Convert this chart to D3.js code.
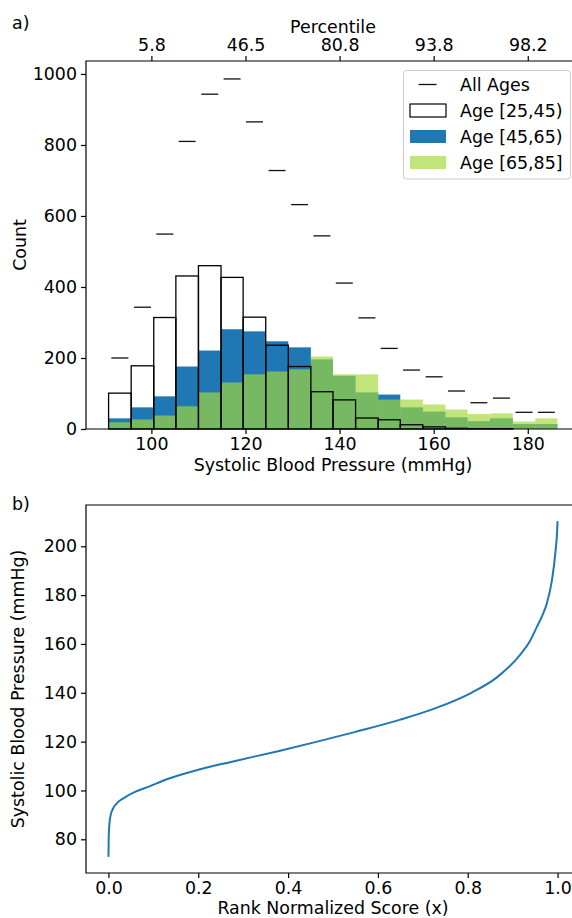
<!DOCTYPE html>
<html>
<head>
<meta charset="utf-8">
<script src="https://cdn.jsdelivr.net/npm/d3@7"></script>
<style>
    body { margin: 0; background: #fff; }
    svg text { font-family: "DejaVu Sans", sans-serif; font-size: 17.4px; fill: #000; }
</style>
</head>
<body>
<svg id="chart" width="572" height="918"></svg>
<script>
// histogram bin edges (mmHg)
let binEdges = [90.9, 95.7, 100.5, 105.2, 110.0, 114.8, 119.5, 124.3, 129.1, 133.9, 138.6,
                143.4, 148.2, 152.9, 157.7, 162.5, 167.2, 172.0, 176.8, 181.6, 186.3]

// counts per bin
let allAges   = [200, 343, 549, 810, 943, 986, 865, 728, 632, 544, 411, 313, 227, 166, 147, 107, 74, 87, 47, 47]
let age25to45 = [101, 178, 314, 431, 460, 427, 315, 236, 176, 105, 82, 31, 26, 12, 6, 2, 1, 1, 0, 0]
let age45to65 = [30, 61, 92, 176, 221, 281, 275, 247, 230, 196, 150, 103, 97, 61, 49, 33, 22, 30, 14, 14]
let age65to85 = [19, 27, 38, 64, 103, 131, 154, 162, 168, 204, 154, 154, 83, 83, 69, 55, 42, 44, 21, 30]

// top axis: percentile at each bottom tick
let bpTicks = [100, 120, 140, 160, 180]
let percentileLabels = ["5.8", "46.5", "80.8", "93.8", "98.2"]

// panel b: rank normalized score vs systolic BP
let rankScore = [0, 0.0005, 0.002, 0.005, 0.01, 0.02, 0.035, 0.058, 0.09, 0.13, 0.2, 0.28, 0.38, 0.465,
                 0.55, 0.65, 0.73, 0.808, 0.865, 0.917, 0.938, 0.954, 0.966, 0.976, 0.9875, 0.995, 0.999, 1.0]
let sbpValues = [72.8, 80, 86, 90, 92.5, 95, 97, 99.3, 101.6, 104.6, 108.5, 112, 116.2, 120,
                 124, 129, 133.8, 140, 146.3, 155.6, 161, 167, 171.6, 176.5, 186, 197, 206, 210.3]

let legendItems = ["All Ages", "Age [25,45)", "Age [45,65)", "Age [65,85]"]

const blue = "#1f77b4"
const green = "rgb(163,216,58)"

let svg = d3.select("#chart")

// ---------- panel a ----------
let left = 86, right = 580
let x = d3.scaleLinear().domain([86.1, 191.1]).range([left, right])
let y = d3.scaleLinear().domain([0, 1036.5]).range([429, 61])

let bins = allAges.map((d, i) => ({
    x0: binEdges[i], x1: binEdges[i + 1],
    all: d, a25: age25to45[i], a45: age45to65[i], a65: age65to85[i]
}))

let gA = svg.append("g")

let drawBars = (key, attrs) => {
    let sel = gA.append("g").selectAll("rect").data(bins).join("rect")
        .attr("x", d => x(d.x0))
        .attr("width", d => x(d.x1) - x(d.x0))
        .attr("y", d => y(d[key]))
        .attr("height", d => y(0) - y(d[key]))
    Object.entries(attrs).forEach(([k, v]) => sel.attr(k, v))
}
drawBars("a25", { fill: "#fff" })
drawBars("a45", { fill: blue })
drawBars("a65", { fill: green, "fill-opacity": 0.67 })
drawBars("a25", { fill: "none", stroke: "#000", "stroke-width": 1.3 })

// all ages markers
gA.append("g").selectAll("line").data(bins).join("line")
    .attr("x1", d => x((d.x0 + d.x1) / 2) - 8.5)
    .attr("x2", d => x((d.x0 + d.x1) / 2) + 8.5)
    .attr("y1", d => y(d.all))
    .attr("y2", d => y(d.all))
    .attr("stroke", "#111")
    .attr("stroke-width", 1.3)

let styleAxis = g => {
    g.select(".domain").remove()
    g.selectAll(".tick line").attr("stroke", "#000").attr("stroke-width", 1.2)
    g.selectAll(".tick text").style("font-size", "17.4px").attr("fill", "#000")
}

svg.append("g").attr("transform", "translate(0,429)")
    .call(d3.axisBottom(x).tickValues(bpTicks).tickSize(5).tickPadding(4))
    .call(styleAxis)
svg.append("g").attr("transform", "translate(0,61)")
    .call(d3.axisTop(x).tickValues(bpTicks).tickSize(5).tickPadding(5)
        .tickFormat((d, i) => percentileLabels[i]))
    .call(styleAxis)
svg.append("g").attr("transform", `translate(${left},0)`)
    .call(d3.axisLeft(y).tickValues([0, 200, 400, 600, 800, 1000]).tickFormat(d3.format("d"))
        .tickSize(5).tickPadding(4))
    .call(styleAxis)

// spines
svg.append("path")
    .attr("d", `M${right},61H${left}V429H${right}`)
    .attr("fill", "none").attr("stroke", "#000").attr("stroke-width", 1.2)

svg.append("text").attr("x", 12).attr("y", 29).text("a)")
svg.append("text").attr("x", 333).attr("y", 32.5).attr("text-anchor", "middle").text("Percentile")
svg.append("text").attr("x", 333).attr("y", 470.5).attr("text-anchor", "middle").text("Systolic Blood Pressure (mmHg)")
svg.append("text").attr("transform", "translate(26,245) rotate(-90)").attr("text-anchor", "middle").text("Count")

// legend
let lg = svg.append("g").attr("transform", "translate(403.5,70.5)")
lg.append("rect").attr("width", 167).attr("height", 108.5).attr("rx", 3)
    .attr("fill", "#fff").attr("fill-opacity", 0.8).attr("stroke", "#ccc")
legendItems.forEach((label, i) => {
    let cy = 14 + i * 26
    if (i == 0) {
        lg.append("line").attr("x1", 15).attr("x2", 33).attr("y1", cy).attr("y2", cy)
            .attr("stroke", "#111").attr("stroke-width", 1.3)
    } else {
        let fills = [null, "#fff", blue, green]
        lg.append("rect").attr("x", 6.5).attr("y", cy - 6.5).attr("width", 36).attr("height", 13)
            .attr("fill", fills[i])
            .attr("fill-opacity", i == 3 ? 0.67 : 1)
            .attr("stroke", i == 1 ? "#000" : "none")
            .attr("stroke-width", 1.2)
    }
    lg.append("text").attr("x", 56.5).attr("y", cy + 6).text(label)
})

// ---------- panel b ----------
let xb = d3.scaleLinear().domain([-0.05, 1.05]).range([left, right])
let yb = d3.scaleLinear().domain([66.2, 216.9]).range([873, 505])

let curve = rankScore.map((r, i) => [r, sbpValues[i]])
svg.append("path")
    .datum(curve)
    .attr("d", d3.line().x(d => xb(d[0])).y(d => yb(d[1])).curve(d3.curveMonotoneX))
    .attr("fill", "none").attr("stroke", blue).attr("stroke-width", 2)

svg.append("g").attr("transform", "translate(0,873)")
    .call(d3.axisBottom(xb).tickValues([0, 0.2, 0.4, 0.6, 0.8, 1.0]).tickFormat(d3.format(".1f"))
        .tickSize(5).tickPadding(4))
    .call(styleAxis)
svg.append("g").attr("transform", `translate(${left},0)`)
    .call(d3.axisLeft(yb).tickValues([80, 100, 120, 140, 160, 180, 200]).tickSize(5).tickPadding(4))
    .call(styleAxis)

svg.append("path")
    .attr("d", `M${right},505H${left}V873H${right}`)
    .attr("fill", "none").attr("stroke", "#000").attr("stroke-width", 1.2)

svg.append("text").attr("x", 12).attr("y", 509.5).text("b)")
svg.append("text").attr("x", 333).attr("y", 914).attr("text-anchor", "middle").text("Rank Normalized Score (x)")
svg.append("text").attr("transform", "translate(24,689) rotate(-90)").attr("text-anchor", "middle")
    .text("Systolic Blood Pressure (mmHg)")
</script>
</body>
</html>
